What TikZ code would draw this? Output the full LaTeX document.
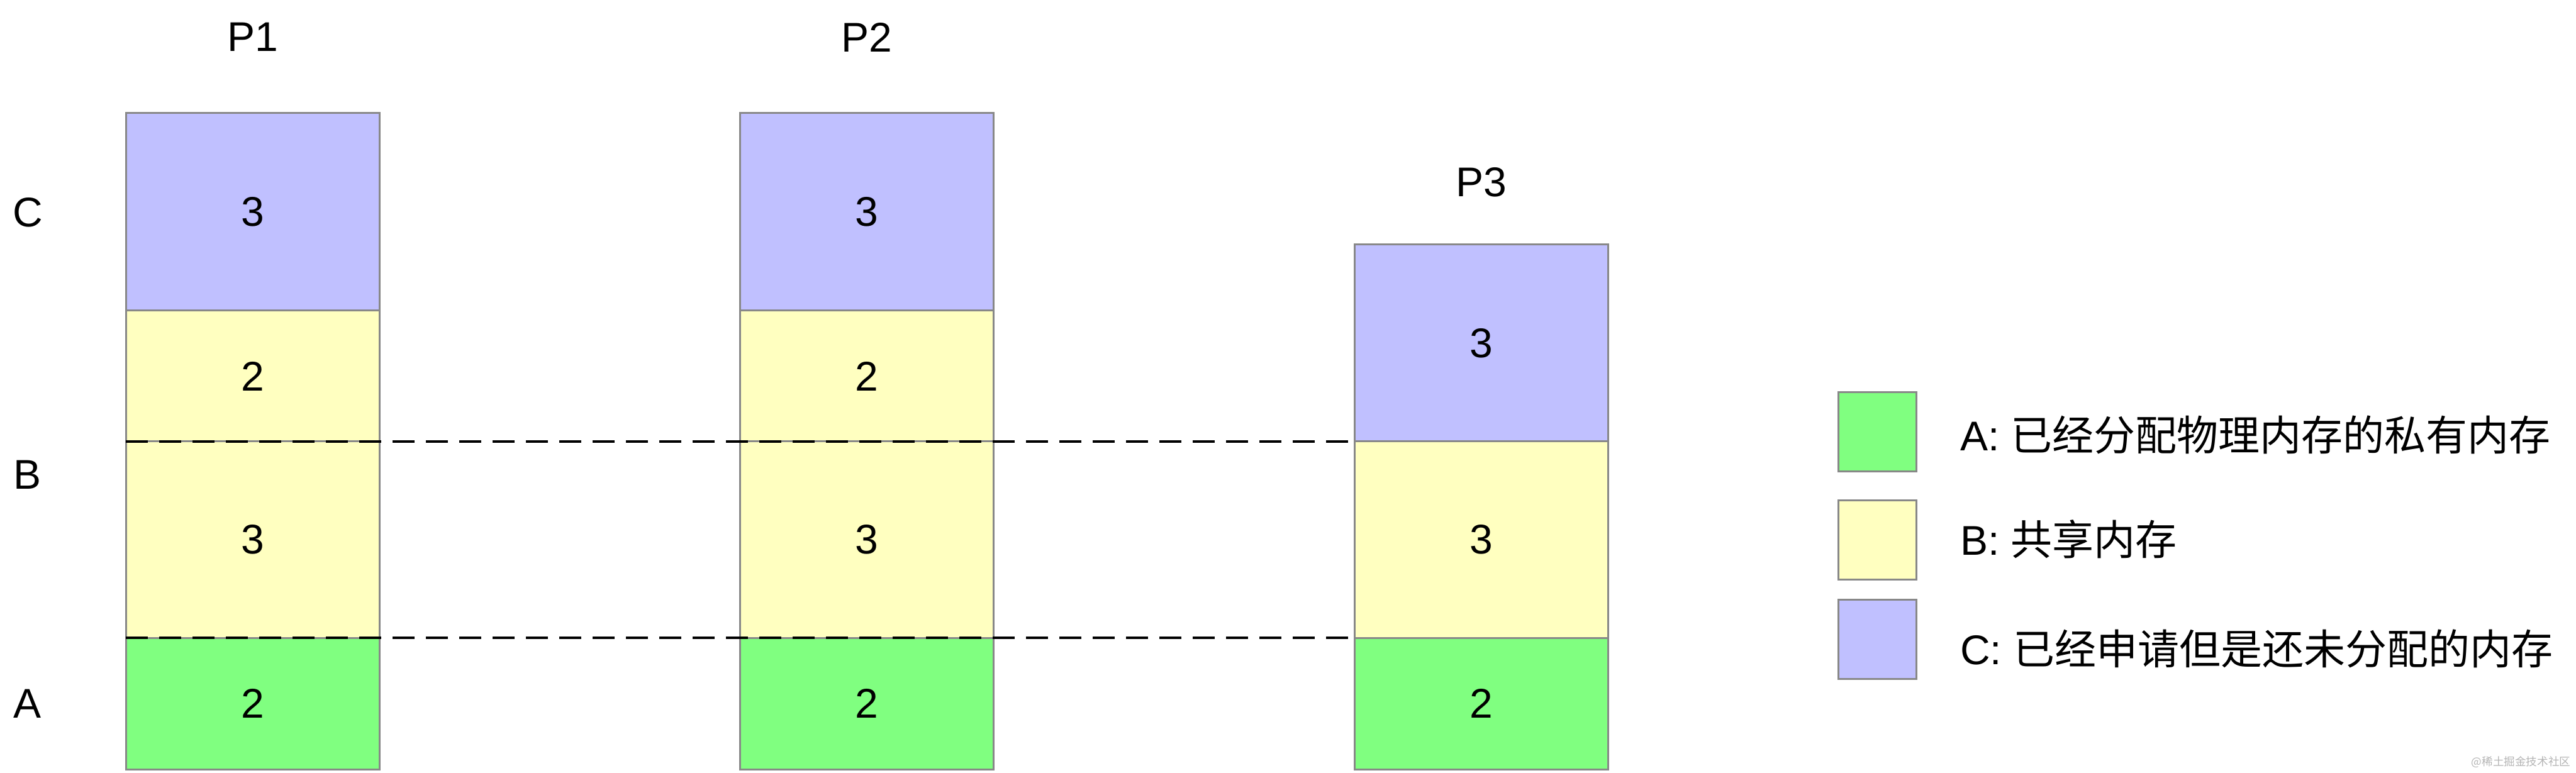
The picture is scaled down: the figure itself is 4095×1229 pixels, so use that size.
\documentclass[tikz,border=0pt]{standalone}
\usepackage{fontspec}
\setmainfont{Liberation Sans}
\newfontfamily\cjk{Noto Sans CJK SC}
\definecolor{cpurple}{HTML}{C0C0FF}
\definecolor{cyellow}{HTML}{FFFFC0}
\definecolor{cgreen}{HTML}{80FF80}
\definecolor{cborder}{HTML}{888888}
\definecolor{cmark}{HTML}{B4B4B4}
\tikzset{
  seg/.style={draw=cborder, line width=0.75pt, inner sep=0pt, outer sep=0pt,
    minimum width=100.75pt, font=\fontsize{16.5}{18}\selectfont},
  txt/.style={inner sep=0pt, outer sep=0pt, font=\fontsize{16.5}{18}\selectfont},
  legbox/.style={draw=cborder, line width=0.75pt, inner sep=0pt, outer sep=0pt,
    minimum width=31pt, minimum height=31.5pt},
  dashline/.style={draw=black, line width=1pt, dash pattern=on 8.75pt off 4.5pt},
}
\begin{document}
\begin{tikzpicture}[x=0.25pt, y=-0.25pt]
\useasboundingbox (0,0) rectangle (4095,1229);
% P1
\node[seg, fill=cpurple, minimum height=78.5pt] (p1c) at (401.5,337) {3};
\node[seg, fill=cyellow, minimum height=52pt] (p1b2) at (401.5,598) {2};
\node[seg, fill=cyellow, minimum height=78pt] (p1b3) at (401.5,858) {3};
\node[seg, fill=cgreen, minimum height=52.25pt] (p1a) at (401.5,1118.5) {2};
% P2
\node[seg, fill=cpurple, minimum height=78.5pt] (p2c) at (1377.5,337) {3};
\node[seg, fill=cyellow, minimum height=52pt] (p2b2) at (1377.5,598) {2};
\node[seg, fill=cyellow, minimum height=78pt] (p2b3) at (1377.5,858) {3};
\node[seg, fill=cgreen, minimum height=52.25pt] (p2a) at (1377.5,1118.5) {2};
% P3
\node[seg, fill=cpurple, minimum height=78.25pt] (p3c) at (2354.5,545.5) {3};
\node[seg, fill=cyellow, minimum height=78pt] (p3b) at (2354.5,858) {3};
\node[seg, fill=cgreen, minimum height=52.25pt] (p3a) at (2354.5,1118.5) {2};
% titles
\node[txt] (t1) at (401.5,59) {P1};
\node[txt] (t2) at (1377.5,59) {P2};
\node[txt] (t3) at (2354.5,290) {P3};
% side labels
\node[txt] (lc) at (44,338) {C};
\node[txt] (lb) at (44,755) {B};
\node[txt] (la) at (44,1119) {A};
% dashed lines
\draw[dashline] (p1b3.north west) -- (p3b.north west);
\draw[dashline] (p1a.north west) -- (p3a.north west);
% legend
\node[legbox, fill=cgreen] (kA) at (2984,687) {};
\node[legbox, fill=cyellow] (kB) at (2984,859) {};
\node[legbox, fill=cpurple] (kC) at (2984,1016.5) {};
\node[txt, anchor=base west] (dA) at (3116,717) {A: {\cjk 已经分配物理内存的私有内存}};
\node[txt, anchor=base west] (dB) at (3116,883) {B: {\cjk 共享内存}};
\node[txt, anchor=base west] (dC) at (3116,1056) {C: {\cjk 已经申请但是还未分配的内存}};
% watermark
\node[inner sep=0pt, anchor=east, text=cmark, font=\cjk\fontsize{4.4}{5}\selectfont] (wm) at (4087,1212) {@稀土掘金技术社区};
\end{tikzpicture}
\end{document}
